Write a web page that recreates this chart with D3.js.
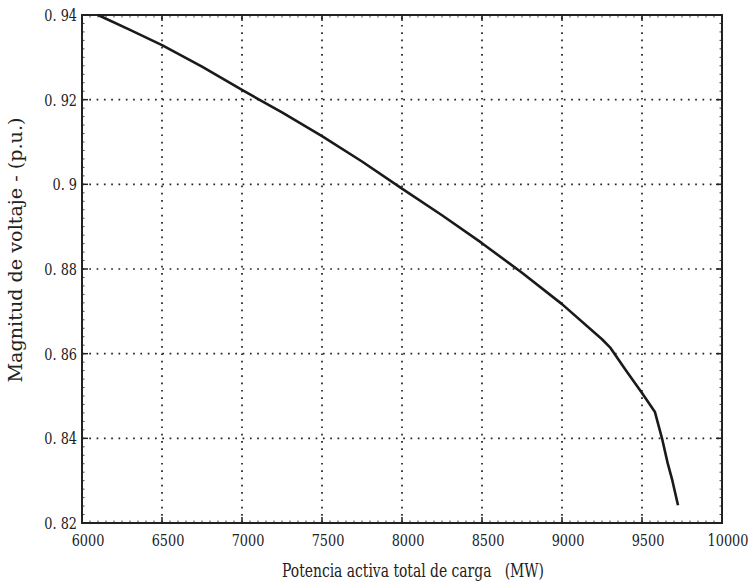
<!DOCTYPE html>
<html>
<head>
<meta charset="utf-8">
<script src="https://cdn.jsdelivr.net/npm/d3@7"></script>
<style>
  html, body { margin: 0; padding: 0; background: #fff; }
  svg { display: block; }
  svg text { font-family: "DejaVu Serif", "Liberation Serif", serif; }
</style>
</head>
<body>
<svg id="chart" width="754" height="583"></svg>
<script>
// ---- data ----
const powerMW = [6100, 6300, 6500, 6750, 7000, 7250, 7500, 7750, 8000, 8250, 8500, 8750, 9000, 9250, 9300, 9400, 9500, 9581, 9625, 9660, 9690, 9725];
const voltagePU = [0.9400, 0.9365, 0.9329, 0.9278, 0.9223, 0.9170, 0.9114, 0.9054, 0.8990, 0.8927, 0.8861, 0.8791, 0.8717, 0.8634, 0.8615, 0.8560, 0.8507, 0.8462, 0.8400, 0.8342, 0.8300, 0.8242];
const xTicks = [6000, 6500, 7000, 7500, 8000, 8500, 9000, 9500, 10000];
const yTicks = [0.82, 0.84, 0.86, 0.88, 0.90, 0.92, 0.94];
const yTickLabels = ["0. 82", "0. 84", "0. 86", "0. 88", "0. 9", "0. 92", "0. 94"];
const xTitle = "Potencia activa total de carga   (MW)";
const yTitle = "Magnitud de voltaje - (p.u.)";

// ---- layout ----
const L = 82, R = 722, T = 15, B = 523;
const svg = d3.select("#chart");
const x = d3.scaleLinear().domain([6000, 10000]).range([L, R]);
const y = d3.scaleLinear().domain([0.82, 0.94]).range([B, T]);

// grid
const grid = svg.append("g").attr("stroke", "#222").attr("stroke-width", 1.7)
  .attr("stroke-dasharray", "1.7,5.6").attr("fill", "none");
xTicks.slice(1, -1).forEach(v => {
  grid.append("line").attr("x1", x(v)).attr("x2", x(v)).attr("y1", B).attr("y2", T);
});
yTicks.slice(1, -1).forEach(v => {
  grid.append("line").attr("x1", L).attr("x2", R).attr("y1", y(v)).attr("y2", y(v));
});

// minor ticks
const minor = svg.append("g").attr("stroke", "#444").attr("stroke-width", 1);
d3.range(6000, 10001, 50).forEach(v => {
  minor.append("line").attr("x1", x(v)).attr("x2", x(v)).attr("y1", B).attr("y2", B - 2.5);
  minor.append("line").attr("x1", x(v)).attr("x2", x(v)).attr("y1", T).attr("y2", T + 2.5);
});
d3.range(0, 61).forEach(i => {
  const v = 0.82 + i * 0.002;
  minor.append("line").attr("x1", L).attr("x2", L + 2.5).attr("y1", y(v)).attr("y2", y(v));
  minor.append("line").attr("x1", R).attr("x2", R - 2.5).attr("y1", y(v)).attr("y2", y(v));
});

// major ticks
const major = svg.append("g").attr("stroke", "#222").attr("stroke-width", 1.5);
xTicks.forEach(v => {
  major.append("line").attr("x1", x(v)).attr("x2", x(v)).attr("y1", B).attr("y2", B - 6);
  major.append("line").attr("x1", x(v)).attr("x2", x(v)).attr("y1", T).attr("y2", T + 6);
});
yTicks.forEach(v => {
  major.append("line").attr("x1", L).attr("x2", L + 6).attr("y1", y(v)).attr("y2", y(v));
  major.append("line").attr("x1", R).attr("x2", R - 6).attr("y1", y(v)).attr("y2", y(v));
});

// frame
svg.append("rect").attr("x", L).attr("y", T).attr("width", R - L).attr("height", B - T)
  .attr("fill", "none").attr("stroke", "#222").attr("stroke-width", 2);

// curve
const pts = powerMW.map((p, i) => [p, voltagePU[i]]);
svg.append("path").datum(pts)
  .attr("fill", "none").attr("stroke", "#1a1a1a").attr("stroke-width", 2.6)
  .attr("stroke-linejoin", "round")
  .attr("d", d3.line().x(d => x(d[0])).y(d => y(d[1])));

// x tick labels (horizontally condensed serif, as in the reference)
svg.append("g").selectAll("text").data(xTicks).join("text")
  .attr("transform", d => `translate(${x(d) + 6},${B + 23}) scale(0.78,1)`)
  .attr("text-anchor", "middle").attr("font-size", 16.5).attr("fill", "#222")
  .text(d => d);

// y tick labels
svg.append("g").selectAll("text").data(yTicks).join("text")
  .attr("transform", d => `translate(${L - 5},${y(d) + 6}) scale(0.78,1)`)
  .attr("text-anchor", "end").attr("font-size", 16.5).attr("fill", "#222")
  .text((d, i) => yTickLabels[i]);

// titles
const xt = svg.append("text").attr("x", 413).attr("y", 577).attr("text-anchor", "middle")
  .attr("font-size", 19).attr("fill", "#222")
  .style("white-space", "pre").text(xTitle);
xt.attr("textLength", 262).attr("lengthAdjust", "spacingAndGlyphs");
const yt = svg.append("text").attr("transform", "translate(22,250) rotate(-90)")
  .attr("text-anchor", "middle").attr("font-size", 19).attr("fill", "#222")
  .text(yTitle);
yt.attr("textLength", 265).attr("lengthAdjust", "spacingAndGlyphs");
</script>
</body>
</html>
